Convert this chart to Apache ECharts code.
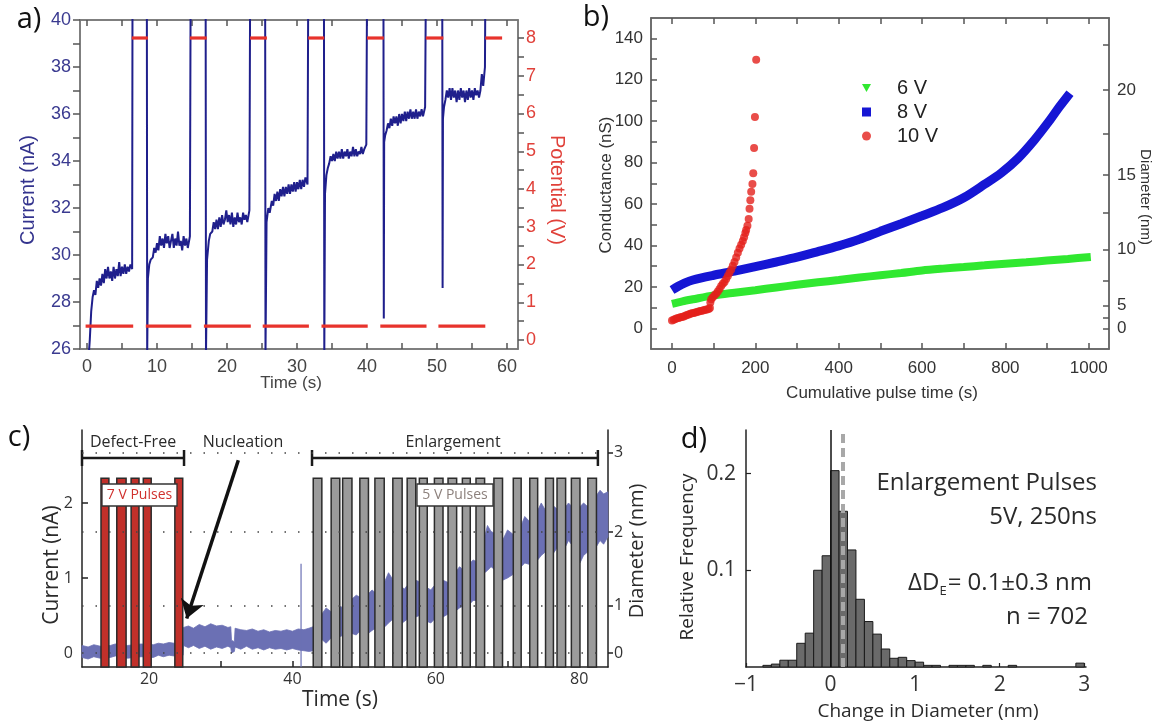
<!DOCTYPE html>
<html><head><meta charset="utf-8">
<script src="https://cdn.jsdelivr.net/npm/echarts@6/dist/echarts.min.js"></script>
<style>html,body{margin:0;padding:0;background:#fff}#c{width:1164px;height:725px}</style>
</head><body><div id="c"></div>
<script>
// ================= Panel a =================
const aTimeTicks = [0,10,20,30,40,50,60];
const aTimeMinor = [0,5,10,15,20,25,30,35,40,45,50,55,60];
const aCurrentTicks = [26,28,30,32,34,36,38,40];
const aCurrentMinor = [26,27,28,29,30,31,32,33,34,35,36,37,38,39,40];
const aPotentialTicks = [0,1,2,3,4,5,6,7,8];
const aPotentialMinor = [0,0.5,1,1.5,2,2.5,3,3.5,4,4.5,5,5.5,6,6.5,7,7.5,8];
const aCurrent = [
 [0.2,25.5],[0.4,26.4],[0.6,27.6],[0.8,28.2],[1.0,28.5],[1.2,28.3],[1.4,28.9],[1.6,28.6],[1.8,29.0],[2.0,28.7],[2.2,29.2],[2.4,28.8],[2.6,29.4],[2.8,29.0],[3.0,29.5],[3.2,29.0],[3.4,29.3],[3.6,28.9],[3.8,29.5],[4.0,29.0],[4.2,29.4],[4.4,29.1],[4.6,29.7],[4.8,29.1],[5.0,29.5],[5.2,29.2],[5.4,29.6],[5.6,29.2],[5.8,29.5],[6.0,29.3],[6.2,29.6],[6.45,29.4],[6.5,41],
 [8.55,41],[8.6,25.8],[8.7,29.0],[8.9,29.6],[9.1,29.8],[9.4,29.9],[9.6,30.3],[9.8,30.1],[10.0,30.5],[10.2,30.2],[10.4,30.8],[10.6,30.4],[10.8,30.7],[11.0,30.3],[11.2,30.9],[11.4,30.5],[11.6,30.8],[11.8,30.3],[12.0,30.6],[12.2,30.9],[12.4,30.3],[12.6,30.7],[12.8,30.4],[13.0,31.0],[13.2,30.4],[13.4,30.6],[13.6,30.2],[13.8,30.8],[14.0,30.4],[14.2,30.7],[14.4,30.3],[14.7,30.8],[14.8,41],
 [16.95,41],[17.0,25.8],[17.15,29.8],[17.4,30.6],[17.6,30.9],[17.9,31.0],[18.1,31.4],[18.3,31.1],[18.5,31.5],[18.7,31.1],[18.9,31.6],[19.1,31.2],[19.3,31.7],[19.5,31.3],[19.7,31.5],[19.9,31.9],[20.1,31.4],[20.3,31.7],[20.5,31.3],[20.7,31.8],[20.9,31.2],[21.1,31.6],[21.3,31.3],[21.5,31.8],[21.7,31.4],[21.9,31.6],[22.1,31.3],[22.3,31.8],[22.5,31.5],[22.7,31.7],[22.9,31.4],[23.2,31.9],[23.3,41],
 [25.45,41],[25.5,25.8],[25.65,31.4],[25.9,32.0],[26.1,31.8],[26.4,32.3],[26.6,32.1],[26.8,32.6],[27.0,32.3],[27.2,32.7],[27.4,32.3],[27.6,32.8],[27.8,32.5],[28.0,32.9],[28.2,32.5],[28.4,32.9],[28.6,32.6],[28.8,33.0],[29.0,32.6],[29.2,33.0],[29.4,32.7],[29.6,33.1],[29.8,32.7],[30.0,33.1],[30.2,32.8],[30.4,33.2],[30.6,32.8],[30.8,33.2],[31.0,32.9],[31.2,33.3],[31.5,33.0],[31.6,41],
 [33.85,41],[33.9,25.8],[34.0,32.6],[34.2,33.4],[34.4,33.7],[34.6,33.9],[34.8,34.2],[35.0,34.0],[35.2,34.3],[35.4,34.0],[35.6,34.4],[35.8,34.1],[36.0,34.4],[36.2,34.1],[36.4,34.5],[36.6,34.1],[36.8,34.4],[37.0,34.2],[37.2,34.5],[37.4,34.1],[37.6,34.4],[37.8,34.2],[38.0,34.6],[38.2,34.2],[38.4,34.5],[38.6,34.2],[38.8,34.4],[39.0,34.3],[39.2,34.6],[39.4,34.3],[39.6,34.5],[39.9,34.7],[40.0,41],
 [42.35,41],[42.4,27.3],[42.45,34.8],[42.6,35.1],[42.8,35.3],[43.0,35.6],[43.2,35.4],[43.4,35.8],[43.6,35.5],[43.8,35.9],[44.0,35.6],[44.2,35.9],[44.4,35.5],[44.6,36.0],[44.8,35.6],[45.0,36.0],[45.2,35.7],[45.4,36.1],[45.6,35.7],[45.8,36.1],[46.0,35.8],[46.2,36.2],[46.4,35.8],[46.6,36.1],[46.8,35.8],[47.0,36.2],[47.2,35.8],[47.4,36.1],[47.6,35.9],[47.8,36.2],[48.0,35.9],[48.3,36.3],[48.4,41],
 [50.75,41],[50.8,28.6],[50.85,35.8],[51.0,36.3],[51.2,36.6],[51.4,37.0],[51.6,36.7],[51.8,37.1],[52.0,36.6],[52.2,37.1],[52.4,36.7],[52.6,37.0],[52.8,36.5],[53.0,37.0],[53.2,36.6],[53.4,37.1],[53.6,36.7],[53.8,37.0],[54.0,36.5],[54.2,37.0],[54.4,36.6],[54.6,37.1],[54.8,36.7],[55.0,37.0],[55.2,36.6],[55.4,37.1],[55.6,36.8],[55.8,37.0],[56.0,36.7],[56.2,37.0],[56.4,37.7],[56.6,37.2],[56.85,38.0],[56.9,41]
];
const aPotentialLevels = [0.37, 8];
const aPotentialLow = [[-0.2,6.6],[8.4,14.9],[16.7,23.4],[25.1,31.7],[33.5,40.1],[41.9,48.5],[50.2,56.9]];
const aPotentialHigh = [[6.4,8.7],[14.7,17.1],[23.3,25.7],[31.6,33.9],[40.0,42.4],[48.4,50.9],[56.9,59.3]];

// ================= Panel b =================
const bTimeTicks = [0,200,400,600,800,1000];
const bTimeMinor = [0,100,200,300,400,500,600,700,800,900,1000];
const bCondTicks = [0,20,40,60,80,100,120,140];
const bCondMinor = [0,10,20,30,40,50,60,70,80,90,100,110,120,130,140];
const bDiamTicks = [0,5,10,15,20];
const bDiamPos = [0,11,38,74,115];
const bDiamMinor = [0,5,11,23,38,56,74,94,115,137];
const green6V = [[0,11.8],[25,13],[50,14],[100,15.9],[150,17.2],[200,18.4],[250,19.7],[300,21],[350,22.2],[400,23.3],[450,24.5],[500,25.6],[550,26.7],[600,27.9],[650,28.8],[700,29.6],[750,30.4],[800,31.2],[850,31.9],[900,32.7],[950,33.5],[1005,34.4]];
const blue8V = [[0,18.5],[15,20.3],[30,21.8],[50,23.3],[100,25.6],[150,27.6],[200,29.8],[250,32],[300,34.3],[350,37],[400,39.8],[450,43],[500,46.8],[550,50.5],[600,54.3],[650,58.2],[700,63],[750,69.5],[790,75],[830,82],[870,91],[905,100],[930,107],[955,113.5]];
const red10V = [[0,3.8],[4,4.1],[8,4.5],[12,4.8],[16,5.0],[20,5.3],[24,5.5],[28,5.7],[32,6.0],[36,6.4],[40,6.7],[44,7.0],[48,7.2],[52,7.4],[56,7.6],[60,7.9],[64,8.1],[68,8.3],[72,8.5],[76,8.7],[80,8.9],[84,9.1],[88,9.3],[91,9.8],[92,12.5],[94,14],[98,15],[102,15.9],[106,16.7],[110,17.8],[114,19],[118,20.4],[122,21.5],[126,22.4],[130,23.8],[134,25.3],[138,26.8],[142,28.4],[146,30.2],[150,32],[154,34.2],[158,36.5],[162,38.5],[166,40.3],[170,42.2],[173,44],[176,46],[178,47.5],[181,49.5],[184,52.8],[186,57.7],[188,61.8],[190,65.9],[193,69.6],[195,74.8],[197,87],[199,102],[202,129.6]];

// ================= Panel c =================
const cTimeTicks = [20,40,60,80];
const cTimeMinor = [20,30,40,50,60,70,80];
const cCurrentTicks = [0,1,2];
const cDiamTicks = [0,1,2,3];
const cDiamPos = [0,0.63,1.61,2.67];
const pulses7V = [[13.3,14.4],[15.5,16.8],[17.5,18.6],[19.2,20.3],[23.6,24.7]];
const pulses5V = [[42.9,44.1],[45.4,46.6],[47.0,48.3],[49.4,50.6],[51.5,52.8],[54.0,55.3],[56.0,57.2],[57.7,58.8],[59.8,61.0],[61.7,62.9],[63.7,64.8],[65.6,66.8],[68.1,69.3],[70.8,71.9],[73.1,74.2],[75.3,76.4],[76.9,78.1],[78.9,80.1],[81.2,82.4]];
const pulseTop = 2.33;
const cTrace = [
 [10.65,-0.06,0.10],[11.5,-0.08,0.08],[12.3,-0.05,0.11],[13.2,-0.07,0.09],[14.6,-0.06,0.10],[15.3,-0.04,0.12],[17.0,-0.07,0.10],[18.9,-0.05,0.12],[20.6,-0.06,0.11],[21.3,-0.03,0.13],[22.0,-0.05,0.12],[22.8,-0.03,0.14],[23.5,-0.04,0.13],[24.75,-0.03,0.14],
 [24.8,0.10,0.34],[25.5,0.07,0.36],[26.2,0.10,0.33],[27.0,0.06,0.38],[27.8,0.09,0.35],[28.6,0.05,0.39],[29.4,0.08,0.36],[30.2,0.06,0.37],[31.0,0.09,0.34],[31.4,0.07,0.35],[31.5,0.00,0.17],[31.9,0.02,0.15],[32.0,0.08,0.33],[32.8,0.05,0.31],[33.6,0.09,0.30],[34.4,0.05,0.32],[35.2,0.07,0.29],[36.0,0.04,0.31],[36.8,0.07,0.28],[37.6,0.05,0.30],[38.4,0.06,0.29],[39.2,0.04,0.31],[40.0,0.06,0.29],[40.8,0.04,0.32],[41.6,0.03,0.31],[42.3,0.02,0.33],
 [42.9,0.03,0.35],[44.1,0.18,0.52],[44.7,0.13,0.60],[45.4,0.20,0.55],[46.7,0.22,0.62],[47.1,0.24,0.60],[48.3,0.26,0.72],[48.9,0.24,0.77],[49.5,0.30,0.74],[50.7,0.27,0.80],[51.1,0.30,0.84],[51.6,0.33,0.80],[52.9,0.35,0.96],[53.4,0.40,1.07],[54.0,0.45,0.98],[55.3,0.40,0.88],[55.6,0.42,0.85],[56.0,0.45,0.90],[57.2,0.48,0.97],[57.7,0.50,0.95],[58.8,0.42,0.87],[59.3,0.40,0.84],[59.8,0.45,0.90],[61.0,0.48,0.97],[61.7,0.52,0.94],[62.9,0.57,1.10],[63.3,0.60,1.15],[63.7,0.62,1.12],[64.8,0.66,1.20],[65.2,0.70,1.24],[65.6,0.70,1.22],[66.8,1.07,1.55],[67.2,1.10,1.70],[67.7,1.15,1.62],[68.1,1.12,1.60],[69.3,0.97,1.50],[70.0,1.00,1.64],[70.8,1.05,1.58],[71.9,1.15,1.70],[72.4,1.20,1.82],[73.1,1.18,1.75],[74.2,1.24,1.90],[74.7,1.30,2.00],[75.3,1.35,1.90],[76.4,1.33,1.96],[76.9,1.40,1.92],[78.1,1.42,1.95],[78.5,1.50,2.00],[78.9,1.45,1.96],[80.1,1.20,1.95],[80.6,1.30,2.00],[81.2,1.35,1.95],[82.4,1.42,2.10],[82.9,1.50,2.17],[83.4,1.45,2.12],[84.0,1.55,2.15]
];
const cSpike = [[41.2,-0.19],[41.2,1.19]];
const cBrackets = [[10.65,24.88,2.6],[42.73,82.6,2.6]];
const cArrow = [[32.45,2.57],[25.25,0.46]];

// ================= Panel d =================
const dTicksY = [0.1,0.2];
const dBins = [[-0.8,-0.7,0.0017],[-0.7,-0.6,0.003],[-0.6,-0.5,0.007],[-0.5,-0.4,0.007],[-0.4,-0.3,0.0245],[-0.3,-0.2,0.035],[-0.2,-0.1,0.1],[-0.1,0,0.115],[0,0.1,0.203],[0.1,0.2,0.161],[0.2,0.3,0.121],[0.3,0.4,0.07],[0.4,0.5,0.047],[0.5,0.6,0.034],[0.6,0.7,0.0186],[0.7,0.8,0.009],[0.8,0.9,0.01],[0.9,1.0,0.0066],[1.0,1.1,0.005],[1.1,1.2,0.0017],[1.2,1.3,0.0017],[1.4,1.5,0.0017],[1.5,1.6,0.0017],[1.6,1.7,0.0017],[1.8,1.9,0.0017],[2.1,2.2,0.0017],[2.9,3.0,0.004]];
const dMean = 0.135;

// ================= Rendering =================
const FA = 'Liberation Sans', FC = 'Open Sans';
const chart = echarts.init(document.getElementById('c'));

function hSeg(color, width){
  return function(params, api){
    const y = api.value(2);
    const p1 = api.coord([api.value(0), y]), p2 = api.coord([api.value(1), y]);
    return {type:'line', shape:{x1:p1[0],y1:p1[1],x2:p2[0],y2:p2[1]}, style:{stroke:color, lineWidth:width}};
  };
}
function pulseRect(fill){
  return function(params, api){
    const a = api.coord([api.value(0), pulseTop]);
    const b = api.coord([api.value(1), pulseTop]);
    const bottom = params.coordSys.y + params.coordSys.height;
    return {type:'rect', shape:{x:a[0], y:a[1], width:b[0]-a[0], height:bottom-a[1]}, style:{fill:fill, stroke:'#2b2b2b', lineWidth:1.5}};
  };
}
function bracket(params, api){
  const y = api.value(2);
  const a = api.coord([api.value(0), y]), b = api.coord([api.value(1), y]);
  const st = {stroke:'#1a1a1a', lineWidth:2.5};
  return {type:'group', children:[
    {type:'line', shape:{x1:a[0],y1:a[1],x2:b[0],y2:b[1]}, style:st},
    {type:'line', shape:{x1:a[0],y1:a[1]-8,x2:a[0],y2:a[1]+8}, style:st},
    {type:'line', shape:{x1:b[0],y1:b[1]-8,x2:b[0],y2:b[1]+8}, style:st}
  ]};
}
function tracePoly(params, api){
  const pts = [];
  cTrace.forEach(r => pts.push(api.coord([r[0], r[2]])));
  for (let i = cTrace.length - 1; i >= 0; i--) pts.push(api.coord([cTrace[i][0], cTrace[i][1]]));
  return {type:'polygon', shape:{points:pts}, style:{fill:'#6b70b4', stroke:'#6b70b4', lineWidth:0.8}};
}
function histRect(params, api){
  const a = api.coord([api.value(0), api.value(2)]);
  const b = api.coord([api.value(1), 0]);
  return {type:'rect', shape:{x:a[0], y:a[1], width:b[0]-a[0], height:b[1]-a[1]}, style:{fill:'#6a6a6a', stroke:'#1a1a1a', lineWidth:1}};
}

const gray = '#777';
function lbl(o){ return Object.assign({fontFamily:FA, fontSize:18, color:'#333'}, o); }
function line(color){ return {show:true, onZero:false, lineStyle:{color:color, width:1.5}}; }

const option = {
  animation:false,
  backgroundColor:'#fff',
  grid:[
    {left:80, top:20, width:438, height:329, show:true, borderColor:gray, borderWidth:1.5, backgroundColor:'transparent'},
    {left:651, top:18, width:458, height:331, show:true, borderColor:'#666', borderWidth:1.5, backgroundColor:'transparent'},
    {left:82, top:430, width:526, height:237},
    {left:746, top:430, width:340, height:237}
  ],
  xAxis:[
    {gridIndex:0, type:'value', min:-1, max:61.57, position:'bottom', axisLine:line(gray),
     axisTick:{inside:true, length:6, customValues:aTimeMinor, lineStyle:{color:'#555', width:1.5}},
     axisLabel:lbl({customValues:aTimeTicks, margin:9, color:'#444'}), splitLine:{show:false}},
    {gridIndex:0, type:'value', min:-1, max:61.57, position:'top', axisLine:line(gray),
     axisTick:{inside:true, length:6, customValues:aTimeMinor, lineStyle:{color:'#555', width:1.5}},
     axisLabel:{show:false}, splitLine:{show:false}},
    {gridIndex:1, type:'value', min:-50.4, max:1048.7, position:'bottom', axisLine:line('#666'),
     axisTick:{inside:true, length:6, customValues:bTimeMinor, lineStyle:{color:'#555', width:1.5}},
     axisLabel:lbl({customValues:bTimeTicks, margin:11, fontSize:17, formatter:v => String(v)}), splitLine:{show:false}},
    {gridIndex:1, type:'value', min:-50.4, max:1048.7, position:'top', axisLine:line('#666'),
     axisTick:{inside:true, length:6, customValues:bTimeMinor, lineStyle:{color:'#555', width:1.5}},
     axisLabel:{show:false}, splitLine:{show:false}},
    {gridIndex:2, type:'value', min:10.65, max:84.01, position:'bottom', axisLine:line('#222'),
     axisTick:{inside:true, length:6, customValues:cTimeMinor, lineStyle:{color:'#222', width:1.5}},
     axisLabel:lbl({customValues:cTimeTicks, margin:4, fontSize:16, fontFamily:FC}), splitLine:{show:false}},
    {gridIndex:3, type:'value', min:-1, max:3.02, interval:1, position:'bottom', axisLine:line('#222'),
     axisTick:{inside:true, length:4, lineStyle:{color:'#222', width:1.2}},
     axisLabel:lbl({margin:8, fontSize:21, fontFamily:FC, formatter:v => String(v).replace('-', '\u2212')}), splitLine:{show:false}}
  ],
  yAxis:[
    {gridIndex:0, type:'value', min:26, max:40, position:'left', axisLine:line(gray),
     axisTick:{show:true, inside:false, length:7, customValues:aCurrentMinor, lineStyle:{color:'#555', width:1.5}},
     axisLabel:lbl({customValues:aCurrentTicks, margin:9, color:'#3a3a90'}), splitLine:{show:false}},
    {gridIndex:0, type:'value', min:-0.238, max:8.477, position:'right', axisLine:line(gray),
     axisTick:{show:true, inside:false, length:6, customValues:aPotentialMinor, lineStyle:{color:'#555', width:1.5}},
     axisLabel:lbl({customValues:aPotentialTicks, margin:8, color:'#e0413a'}), splitLine:{show:false}},
    {gridIndex:1, type:'value', min:-10, max:149.8, position:'left', axisLine:line('#666'),
     axisTick:{show:true, inside:true, length:6, customValues:bCondMinor, lineStyle:{color:'#555', width:1.5}},
     axisLabel:lbl({customValues:bCondTicks, margin:8, fontSize:17}), splitLine:{show:false}},
    {gridIndex:1, type:'value', min:-10, max:149.8, position:'right', axisLine:line('#666'),
     axisTick:{show:true, inside:true, length:6, customValues:bDiamMinor, lineStyle:{color:'#555', width:1.5}},
     axisLabel:lbl({customValues:bDiamPos, margin:8, fontSize:17, formatter:v => String(bDiamTicks[bDiamPos.indexOf(v)])}), splitLine:{show:false}},
    {gridIndex:2, type:'value', min:-0.187, max:2.973, position:'left', axisLine:line('#222'),
     axisTick:{show:true, inside:true, length:6, customValues:cCurrentTicks, lineStyle:{color:'#222', width:1.5}},
     axisLabel:lbl({customValues:cCurrentTicks, margin:9, fontSize:16, fontFamily:FC}), splitLine:{show:false}},
    {gridIndex:2, type:'value', min:-0.187, max:2.973, position:'right', axisLine:line('#222'),
     axisTick:{show:true, inside:false, length:5, customValues:cDiamPos, lineStyle:{color:'#222', width:1.5}},
     axisLabel:lbl({customValues:cDiamPos, margin:6, fontSize:16, fontFamily:FC, formatter:v => String(cDiamTicks[cDiamPos.indexOf(v)])}), splitLine:{show:false}},
    {gridIndex:3, type:'value', min:0, max:0.245, position:'left', axisLine:line('#222'),
     axisTick:{show:true, inside:true, length:5, customValues:dTicksY, lineStyle:{color:'#222', width:1.2}},
     axisLabel:lbl({customValues:dTicksY, margin:10, fontSize:21, fontFamily:FC}), splitLine:{show:false}}
  ],
  legend:{
    data:[{name:'6 V', icon:'path://M0,0L10,0L5,9Z'},{name:'8 V', icon:'rect'},{name:'10 V', icon:'circle'}],
    orient:'vertical', left:857, top:73, itemWidth:9, itemHeight:9, itemGap:4, selectedMode:false,
    formatter: n => '{p|' + n + '}',
    textStyle:{rich:{p:{fontSize:20, fontFamily:FA, color:'#222', padding:[0,0,0,21], lineHeight:20}}}
  },
  series:[
    // panel a
    {type:'line', xAxisIndex:0, yAxisIndex:0, data:aCurrent, showSymbol:false, clip:true,
     lineStyle:{color:'#1f1f8c', width:2}, itemStyle:{color:'#1f1f8c'}, z:2, silent:true},
    {type:'custom', xAxisIndex:0, yAxisIndex:1, renderItem:hSeg('#e8332c', 3.2),
     encode:{x:[0,1], y:2}, z:3, silent:true,
     data: aPotentialLow.map(s => [s[0], s[1], aPotentialLevels[0]]).concat(aPotentialHigh.map(s => [s[0], s[1], aPotentialLevels[1]]))},
    // panel b
    {name:'6 V', type:'line', xAxisIndex:2, yAxisIndex:2, data:green6V, showSymbol:false, smooth:0.3,
     color:'#30e830', lineStyle:{color:'#30e830', width:8}, itemStyle:{color:'#30e830'}, z:2, silent:true},
    {name:'8 V', type:'line', xAxisIndex:2, yAxisIndex:2, data:blue8V, showSymbol:false, smooth:0.3,
     color:'#1616d4', lineStyle:{color:'#1616d4', width:9}, itemStyle:{color:'#1616d4'}, z:3, silent:true},
    {name:'10 V', type:'scatter', xAxisIndex:2, yAxisIndex:2, data:red10V, symbol:'circle', symbolSize:8,
     color:'#e4201c', itemStyle:{color:'#e4201c'}, z:4, silent:true},
    // panel c
    {type:'custom', xAxisIndex:4, yAxisIndex:4, renderItem:bracket, encode:{x:[0,1], y:2}, data:cBrackets, z:1, silent:true,
     markLine:{silent:true, symbol:['none','none'], label:{show:false},
       lineStyle:{color:'#444', width:1.6, type:[1.5,12]},
       data: cDiamPos.map(v => ({yAxis:v}))}},
    {type:'custom', xAxisIndex:4, yAxisIndex:4, renderItem:tracePoly, data:[[cTrace[0][0], cTrace[0][1]]], z:2, silent:true},
    {type:'line', xAxisIndex:4, yAxisIndex:4, data:cSpike, showSymbol:false, lineStyle:{color:'#6b70b4', width:1.2}, z:2, silent:true},
    {type:'custom', xAxisIndex:4, yAxisIndex:4, renderItem:pulseRect('#c1302a'), encode:{x:[0,1]}, data:pulses7V, z:3, silent:true},
    {type:'custom', xAxisIndex:4, yAxisIndex:4, renderItem:pulseRect('#9b9b9b'), encode:{x:[0,1]}, data:pulses5V, z:3, silent:true},
    {type:'lines', coordinateSystem:'cartesian2d', xAxisIndex:4, yAxisIndex:4, symbol:['none','arrow'], symbolSize:18,
     lineStyle:{color:'#111', width:3.5, opacity:1}, data:[{coords:cArrow}], z:6, silent:true},
    // panel d
    {type:'custom', xAxisIndex:5, yAxisIndex:6, renderItem:histRect, encode:{x:[0,1], y:2}, data:dBins, z:2, silent:true,
     markLine:{silent:true, symbol:['none','none'], label:{show:false},
       data:[{xAxis:0, lineStyle:{color:'#111', width:1.5, type:'solid'}},
             {xAxis:dMean, lineStyle:{color:'#a8a8a8', width:4, type:[9,5]}}]}}
  ],
  graphic:[
    // panel letters
    {type:'text', x:29, y:20, z:100, style:{text:'a)', fontSize:29, fontFamily:FC, fill:'#111', align:'center', verticalAlign:'middle'}},
    {type:'text', x:596, y:18, z:100, style:{text:'b)', fontSize:29, fontFamily:FC, fill:'#111', align:'center', verticalAlign:'middle'}},
    {type:'text', x:19, y:438, z:100, style:{text:'c)', fontSize:29, fontFamily:FC, fill:'#111', align:'center', verticalAlign:'middle'}},
    {type:'text', x:694, y:440, z:100, style:{text:'d)', fontSize:29, fontFamily:FC, fill:'#111', align:'center', verticalAlign:'middle'}},
    // panel a titles
    {type:'text', x:28, y:190, rotation:Math.PI/2, z:100, style:{text:'Current (nA)', fontSize:20, fontFamily:FA, fill:'#34348e', align:'center', verticalAlign:'middle'}},
    {type:'text', x:557, y:190, rotation:-Math.PI/2, z:100, style:{text:'Potential (V)', fontSize:20, fontFamily:FA, fill:'#e0413a', align:'center', verticalAlign:'middle'}},
    {type:'text', x:291, y:383, z:100, style:{text:'Time (s)', fontSize:17, fontFamily:FA, fill:'#444', align:'center', verticalAlign:'middle'}},
    // panel b titles
    {type:'text', x:606, y:185, rotation:Math.PI/2, z:100, style:{text:'Conductance (nS)', fontSize:17, fontFamily:FA, fill:'#333', align:'center', verticalAlign:'middle'}},
    {type:'text', x:1145, y:197, rotation:-Math.PI/2, z:100, style:{text:'Diameter (nm)', fontSize:15, fontFamily:FA, fill:'#333', align:'center', verticalAlign:'middle'}},
    {type:'text', x:882, y:393, z:100, style:{text:'Cumulative pulse time (s)', fontSize:17, fontFamily:FA, fill:'#333', align:'center', verticalAlign:'middle'}},
    // panel c titles & annotations
    {type:'text', x:52, y:565, rotation:Math.PI/2, z:100, style:{text:'Current (nA)', fontSize:21, fontFamily:FC, fill:'#2a2a2a', align:'center', verticalAlign:'middle'}},
    {type:'text', x:637, y:551, rotation:Math.PI/2, z:100, style:{text:'Diameter (nm)', fontSize:20, fontFamily:FC, fill:'#2a2a2a', align:'center', verticalAlign:'middle'}},
    {type:'text', x:340, y:700, z:100, style:{text:'Time (s)', fontSize:21, fontFamily:FC, fill:'#2a2a2a', align:'center', verticalAlign:'middle'}},
    {type:'text', x:133, y:442, z:100, style:{text:'Defect-Free', fontSize:16, fontFamily:FC, fill:'#2a2a2a', align:'center', verticalAlign:'middle'}},
    {type:'text', x:243, y:442, z:100, style:{text:'Nucleation', fontSize:16, fontFamily:FC, fill:'#2a2a2a', align:'center', verticalAlign:'middle'}},
    {type:'text', x:453, y:442, z:100, style:{text:'Enlargement', fontSize:16, fontFamily:FC, fill:'#2a2a2a', align:'center', verticalAlign:'middle'}},
    {type:'rect', z:100, shape:{x:102, y:484, width:75, height:22}, style:{fill:'#fff', stroke:'#333', lineWidth:1.3}},
    {type:'text', x:139.5, y:495.5, z:101, style:{text:'7 V Pulses', fontSize:14, fontFamily:FC, fill:'#d0312d', align:'center', verticalAlign:'middle'}},
    {type:'rect', z:100, shape:{x:417, y:484, width:76, height:22}, style:{fill:'#fff', stroke:'#333', lineWidth:1.3}},
    {type:'text', x:455, y:495.5, z:101, style:{text:'5 V Pulses', fontSize:14, fontFamily:FC, fill:'#8c807c', align:'center', verticalAlign:'middle'}},
    // panel d titles & annotations
    {type:'text', x:688, y:557, rotation:Math.PI/2, z:100, style:{text:'Relative Frequency', fontSize:19, fontFamily:FC, fill:'#2a2a2a', align:'center', verticalAlign:'middle'}},
    {type:'text', x:928, y:712, z:100, style:{text:'Change in Diameter (nm)', fontSize:19, fontFamily:FC, fill:'#2a2a2a', align:'center', verticalAlign:'middle'}},
    {type:'text', x:1097, y:483, z:100, style:{text:'Enlargement Pulses', fontSize:24, fontFamily:FC, fill:'#2a2a2a', align:'right', verticalAlign:'middle'}},
    {type:'text', x:1097, y:517, z:100, style:{text:'5V, 250ns', fontSize:24, fontFamily:FC, fill:'#2a2a2a', align:'right', verticalAlign:'middle'}},
    {type:'text', x:1092, y:583, z:100, style:{text:'{a|\u0394D}{s|E}{a|= 0.1\u00b10.3 nm}', align:'right', verticalAlign:'middle',
       rich:{a:{fontSize:24, fontFamily:FC, fill:'#2a2a2a', lineHeight:30}, s:{fontSize:13, fontFamily:FC, fill:'#2a2a2a', lineHeight:30, verticalAlign:'bottom', padding:[12,1,0,0]}}}},
    {type:'text', x:1088, y:617, z:100, style:{text:'n = 702', fontSize:24, fontFamily:FC, fill:'#2a2a2a', align:'right', verticalAlign:'middle'}}
  ]
};
chart.setOption(option);
</script>
</body></html>
